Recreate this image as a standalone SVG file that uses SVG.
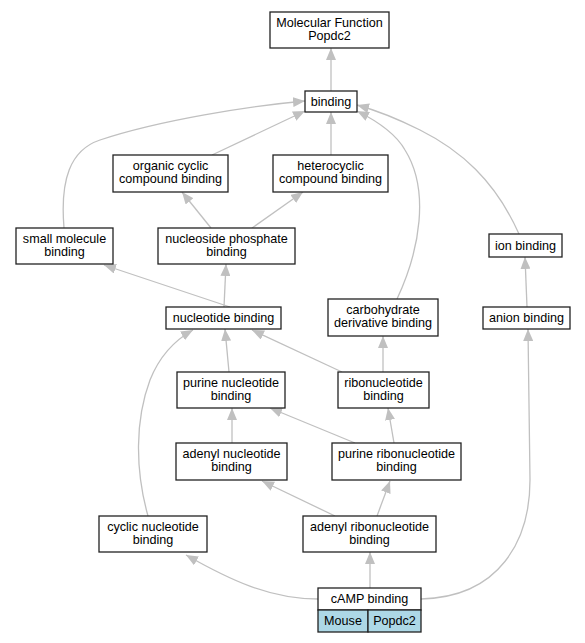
<svg xmlns="http://www.w3.org/2000/svg" width="585" height="643" viewBox="0 0 585 643">
<defs>
<marker id="ah" viewBox="0 0 12 10" refX="12" refY="5" markerWidth="12" markerHeight="10" markerUnits="userSpaceOnUse" orient="auto">
<path d="M0,0 L12,5 L0,10 z" fill="#c0c0c0"/>
</marker>
<style>
.n rect{fill:#fff;stroke:#222;stroke-width:1.3}
.n text,.t text{font-family:"Liberation Sans",Arial,sans-serif;font-size:12.6px;fill:#000;text-anchor:middle}
.e path{fill:none;stroke:#c0c0c0;stroke-width:1.3;marker-end:url(#ah)}
.t rect{fill:#add8e6;stroke:#222;stroke-width:1.3}
</style>
</defs>
<rect width="585" height="643" fill="#fff"/>
<g id="edges" class="e">
<path d="M331,91 L331,48"/>
<path d="M212,155 L305,111"/>
<path d="M331,155 L331,112"/>
<path d="M64,228 C60,180 70,150 100,140 C160,120 250,106 305,101"/>
<path d="M397,299 C420,250 430,190 405,150 C395,132 375,120 357,111"/>
<path d="M519,234 C495,180 460,150 420,130 C400,120 375,110 357,105"/>
<path d="M211,228 L182,192"/>
<path d="M252,228 L303,192"/>
<path d="M230,307 L104,265"/>
<path d="M224,307 L226,264"/>
<path d="M527,307 L525,257"/>
<path d="M383,372 L383,336"/>
<path d="M229,372 L225,329"/>
<path d="M342,372 L252,330"/>
<path d="M148,516 C135,470 135,420 150,380 C160,355 175,340 193,330"/>
<path d="M232,443 L232,408"/>
<path d="M355,443 L270,408"/>
<path d="M394,443 L388,408"/>
<path d="M335,516 L262,481"/>
<path d="M377,516 L390,481"/>
<path d="M318,599 C270,599 230,580 186,555"/>
<path d="M370,588 L370,552"/>
<path d="M421,599 C500,597 530,540 530,480 L528,329"/>
</g>
<g id="n_mf" class="n"><rect x="270" y="12" width="119" height="36"/><text x="329.5" y="27">Molecular Function</text><text x="329.5" y="40">Popdc2</text></g>
<g id="n_binding" class="n"><rect x="305" y="91" width="52" height="21"/><text x="331" y="106">binding</text></g>
<g id="n_organic" class="n"><rect x="113" y="155" width="115" height="37"/><text x="170.5" y="170">organic cyclic</text><text x="170.5" y="183">compound binding</text></g>
<g id="n_hetero" class="n"><rect x="273" y="155" width="115" height="37"/><text x="330.5" y="170">heterocyclic</text><text x="330.5" y="183">compound binding</text></g>
<g id="n_small" class="n"><rect x="16" y="228" width="97" height="36"/><text x="64.5" y="243">small molecule</text><text x="64.5" y="256">binding</text></g>
<g id="n_nucphos" class="n"><rect x="158" y="228" width="137" height="36"/><text x="226.5" y="243">nucleoside phosphate</text><text x="226.5" y="256">binding</text></g>
<g id="n_ion" class="n"><rect x="489" y="234" width="73" height="23"/><text x="525.5" y="250">ion binding</text></g>
<g id="n_carb" class="n"><rect x="328" y="299" width="110" height="37"/><text x="383" y="314">carbohydrate</text><text x="383" y="327">derivative binding</text></g>
<g id="n_anion" class="n"><rect x="483" y="307" width="87" height="22"/><text x="526.5" y="322">anion binding</text></g>
<g id="n_nucleotide" class="n"><rect x="166" y="307" width="115" height="22"/><text x="223.5" y="322">nucleotide binding</text></g>
<g id="n_purnuc" class="n"><rect x="177" y="372" width="108" height="36"/><text x="231" y="387">purine nucleotide</text><text x="231" y="400">binding</text></g>
<g id="n_ribo" class="n"><rect x="338" y="372" width="91" height="36"/><text x="383.5" y="387">ribonucleotide</text><text x="383.5" y="400">binding</text></g>
<g id="n_adenuc" class="n"><rect x="176" y="443" width="111" height="37"/><text x="231.5" y="458">adenyl nucleotide</text><text x="231.5" y="471">binding</text></g>
<g id="n_purribo" class="n"><rect x="332" y="443" width="129" height="37"/><text x="396.5" y="458">purine ribonucleotide</text><text x="396.5" y="471">binding</text></g>
<g id="n_cyclic" class="n"><rect x="99" y="516" width="108" height="36"/><text x="153" y="531">cyclic nucleotide</text><text x="153" y="544">binding</text></g>
<g id="n_adenribo" class="n"><rect x="303" y="516" width="133" height="36"/><text x="369.5" y="531">adenyl ribonucleotide</text><text x="369.5" y="544">binding</text></g>
<g id="n_camp" class="n t"><rect x="318" y="588" width="103" height="22" style="fill:#fff"/><text x="369.5" y="603">cAMP binding</text><rect x="318" y="610" width="50" height="22"/><rect x="368" y="610" width="53" height="22"/><text x="343" y="625">Mouse</text><text x="394.5" y="625">Popdc2</text></g>
</svg>
